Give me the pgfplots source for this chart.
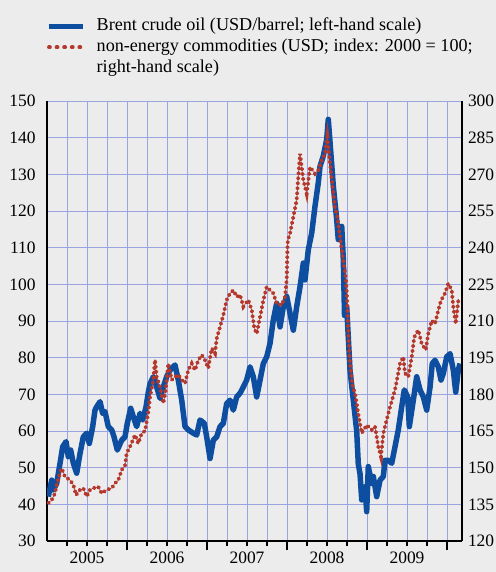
\documentclass[border=0pt]{standalone}
\usepackage{fontspec}
\setmainfont{Liberation Serif}
\usepackage{pgfplots}
\pgfplotsset{compat=1.18}
\definecolor{bgc}{RGB}{236,236,236}
\definecolor{gridc}{RGB}{153,164,224}
\definecolor{brent}{RGB}{14,78,160}
\definecolor{nonen}{RGB}{180,56,44}
\pgfplotstableread{
t v
2005.016 42.1
2005.059 46.6
2005.079 43.9
2005.121 45.7
2005.163 51.2
2005.196 55.7
2005.238 57.1
2005.266 53.0
2005.296 54.8
2005.329 51.2
2005.371 48.5
2005.413 53.9
2005.454 58.4
2005.496 59.4
2005.529 56.6
2005.571 61.2
2005.600 65.7
2005.621 66.6
2005.663 68.0
2005.696 64.8
2005.725 65.3
2005.766 61.2
2005.809 60.3
2005.838 58.4
2005.879 54.8
2005.934 57.5
2005.975 58.4
2006.004 62.1
2006.046 66.2
2006.079 63.9
2006.121 61.2
2006.163 64.8
2006.196 63.0
2006.238 66.6
2006.266 70.5
2006.288 72.9
2006.329 74.8
2006.371 72.0
2006.413 68.9
2006.454 72.0
2006.496 74.8
2006.538 76.6
2006.600 78.0
2006.641 73.9
2006.684 68.4
2006.725 61.2
2006.766 60.3
2006.829 59.4
2006.871 58.9
2006.913 63.0
2006.966 62.1
2006.996 58.4
2007.038 52.5
2007.079 57.5
2007.121 58.4
2007.163 61.2
2007.204 62.1
2007.246 67.5
2007.288 68.4
2007.329 65.7
2007.371 69.3
2007.413 70.3
2007.454 72.0
2007.496 73.9
2007.538 77.5
2007.579 74.8
2007.621 69.3
2007.663 73.9
2007.704 78.4
2007.746 80.2
2007.788 83.9
2007.829 90.3
2007.871 94.8
2007.913 88.4
2007.954 93.9
2007.996 96.7
2008.038 92.1
2008.079 87.5
2008.121 93.9
2008.163 99.4
2008.204 105.8
2008.225 101.2
2008.266 109.4
2008.309 114.0
2008.350 121.3
2008.391 127.7
2008.413 132.2
2008.454 135.0
2008.496 139.5
2008.516 145.0
2008.538 138.7
2008.579 126.8
2008.621 117.7
2008.641 112.2
2008.684 115.8
2008.704 106.8
2008.719 91.5
2008.746 93.9
2008.788 76.5
2008.829 68.4
2008.871 60.0
2008.891 51.0
2008.913 48.3
2008.934 41.2
2008.975 44.8
2008.996 38.0
2009.016 50.3
2009.059 45.7
2009.079 47.6
2009.121 42.1
2009.163 46.6
2009.204 47.6
2009.225 52.0
2009.266 52.0
2009.309 51.2
2009.350 55.7
2009.391 60.3
2009.434 66.6
2009.466 71.2
2009.509 69.3
2009.529 61.2
2009.579 68.4
2009.621 74.8
2009.663 71.2
2009.704 69.3
2009.746 65.7
2009.788 72.0
2009.816 78.4
2009.850 79.3
2009.891 77.5
2009.925 73.9
2009.954 75.7
2009.996 80.2
2010.038 81.1
2010.079 76.6
2010.109 70.6
2010.141 76.6
2010.163 78.4
}\brenttab
\pgfplotstableread{
t r
2005.016 135.5
2005.059 136.8
2005.100 139.5
2005.121 143.0
2005.163 147.8
2005.184 149.7
2005.225 146.3
2005.288 144.9
2005.329 143.0
2005.363 138.8
2005.413 140.9
2005.454 141.6
2005.496 138.2
2005.538 140.9
2005.579 141.6
2005.641 142.2
2005.684 139.5
2005.746 140.9
2005.809 141.6
2005.850 143.6
2005.891 144.9
2005.934 149.1
2005.975 151.0
2005.996 155.9
2006.038 158.6
2006.100 163.4
2006.141 159.9
2006.184 164.1
2006.225 165.0
2006.266 172.5
2006.288 179.0
2006.329 185.9
2006.350 194.1
2006.371 187.2
2006.413 183.0
2006.454 176.3
2006.484 181.7
2006.516 192.6
2006.559 185.9
2006.600 187.2
2006.641 188.0
2006.684 185.9
2006.725 184.5
2006.766 189.9
2006.809 192.6
2006.850 189.9
2006.891 194.0
2006.934 196.1
2006.975 194.0
2007.016 190.7
2007.059 198.8
2007.100 196.8
2007.121 202.8
2007.163 207.6
2007.204 212.4
2007.246 218.6
2007.288 221.3
2007.329 222.6
2007.371 219.9
2007.413 220.7
2007.454 215.9
2007.516 218.6
2007.559 214.5
2007.591 207.0
2007.621 204.8
2007.663 211.7
2007.704 218.4
2007.746 224.0
2007.788 222.6
2007.829 221.3
2007.871 217.1
2007.934 216.5
2007.975 219.9
2007.996 226.7
2008.004 237.6
2008.010 243.0
2008.038 245.9
2008.079 252.6
2008.121 259.5
2008.141 269.0
2008.163 278.4
2008.204 267.6
2008.246 262.1
2008.288 273.0
2008.350 270.3
2008.391 271.7
2008.434 275.7
2008.475 278.4
2008.504 285.3
2008.538 274.4
2008.571 264.8
2008.600 256.5
2008.629 252.5
2008.663 244.2
2008.704 234.8
2008.738 226.7
2008.754 217.0
2008.766 204.8
2008.788 192.6
2008.821 183.0
2008.850 180.5
2008.891 172.0
2008.934 164.1
2008.996 167.4
2009.059 165.5
2009.100 166.8
2009.141 158.6
2009.175 154.5
2009.204 164.1
2009.246 169.5
2009.288 174.9
2009.350 181.8
2009.413 192.6
2009.454 195.3
2009.475 188.6
2009.516 187.2
2009.559 195.3
2009.591 203.4
2009.641 206.3
2009.684 200.7
2009.734 198.2
2009.766 204.8
2009.809 210.2
2009.850 208.8
2009.891 214.4
2009.925 218.4
2009.975 221.3
2010.016 225.3
2010.059 222.6
2010.079 215.7
2010.109 208.8
2010.141 218.4
}\nonentab
\begin{document}
\begin{tikzpicture}
\fill[bgc] (0bp,0bp) rectangle (496bp,572bp);
\useasboundingbox (0bp,0bp) rectangle (496bp,572bp);
\pgfplotsset{
  common/.style={
    at={(47bp,31bp)}, anchor=south west,
    scale only axis, width=415bp, height=440bp,
    xmin=2005, xmax=2010.1875,
    axis line style={black, line width=1.3pt},
    ytick style={draw=none},
    /pgf/number format/assume math mode=true,
    ticklabel style={font=\fontsize{17.5}{20}\selectfont},
    clip=true,
  }
}
\begin{axis}[common,
  ymin=30, ymax=150, ytick={30,40,...,150},
  axis x line*=bottom, axis y line*=left,
  ymajorgrids, xminorgrids,
  grid style={gridc, line width=0.8pt},
  minor grid style={gridc, line width=0.8pt},
  xtick={2005.5,2006.5,2007.5,2008.5,2009.5},
  xticklabels={2005,2006,2007,2008,2009},
  minor xtick={2005.25,2005.5,...,2010.0},
  extra x ticks={2006,2007,2008,2009,2010},
  extra x tick labels={},
  extra x tick style={major tick length=9bp},
  tick align=outside,
  major tick length=5bp, minor tick length=5bp,
  x tick style={black, line width=1.3pt},
  yticklabel style={xshift=-3bp},
  xticklabel style={yshift=-2bp},
]
\addplot[brent, line width=5.5bp, line join=round] table[x=t,y=v] {\brenttab};
\end{axis}
\begin{axis}[common,
  ymin=120, ymax=300, ytick={120,135,...,300},
  axis x line=none, axis y line*=right,
  yticklabel style={xshift=2.5bp},
  legend style={at={(axis description cs:0,1)}, anchor=south west,
    xshift=-4bp, yshift=20bp, draw=none, fill=none,
    font=\fontsize{18.2}{21}\selectfont, row sep=0pt, column sep=10bp,
    nodes={text height=14bp, text depth=5bp, inner sep=1bp}},
  legend cell align=left,
  legend image code/.code={\draw[#1] (0bp,0bp) -- (34bp,0bp);},
]
\addlegendimage{brent, line width=5.5bp}
\addlegendentry{Brent crude oil (USD/barrel; left-hand scale)}
\addlegendimage{nonen, line width=3.8bp, line cap=round, dash pattern=on 1bp off 6.6bp}
\addlegendentry{non-energy commodities (USD; index: 2000 = 100;}
\addlegendimage{empty legend}
\addlegendentry{right-hand scale)}
\addplot[nonen, line width=3.8bp, line cap=round, dash pattern=on 1bp off 4bp, forget plot] table[x=t,y=r] {\nonentab};
\end{axis}
\end{tikzpicture}
\end{document}
